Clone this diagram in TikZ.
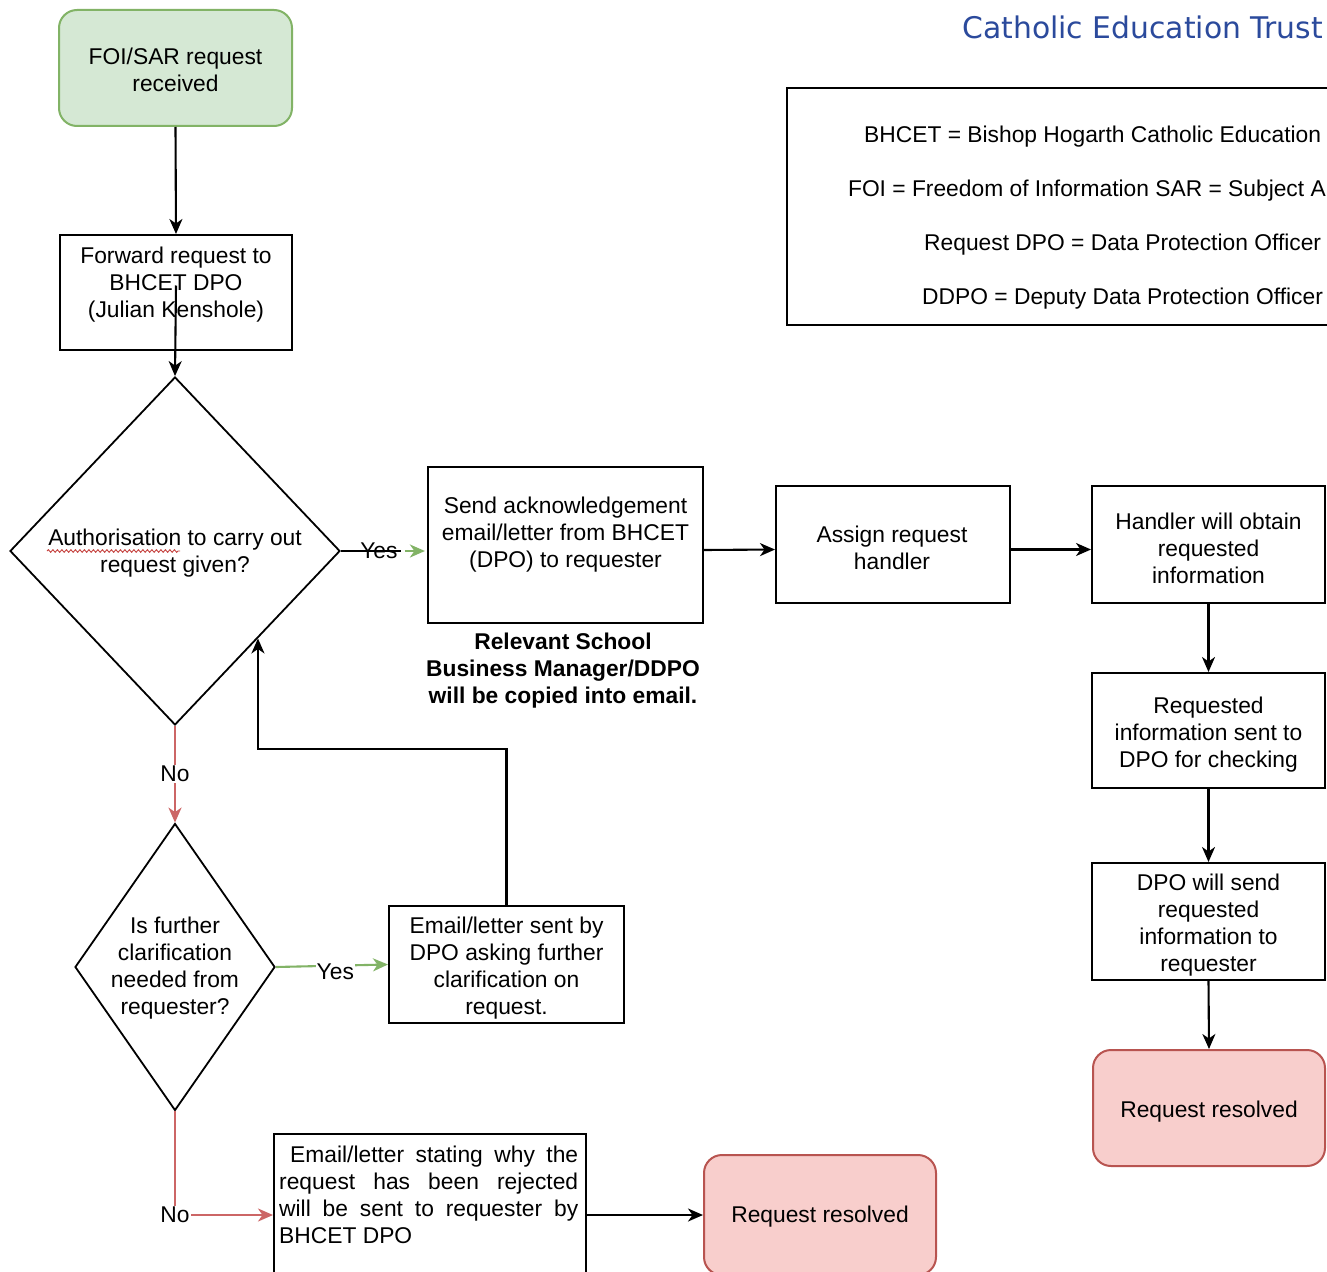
\documentclass[tikz,border=0pt]{standalone}
\usepackage{fontspec}
\setmainfont{Liberation Sans}
\newfontfamily\titlefont{DejaVu Sans}
\usetikzlibrary{shapes.geometric,arrows.meta,calc,decorations.pathmorphing}
\definecolor{gfill}{HTML}{D5E8D4}
\definecolor{gdraw}{HTML}{82B366}
\definecolor{rfill}{HTML}{F8CECC}
\definecolor{rdraw}{HTML}{B85450}
\definecolor{rline}{HTML}{CC6666}
\definecolor{titleblue}{HTML}{2B4A9C}
\begin{document}
\begin{tikzpicture}[x=1pt,y=-1pt,
  font=\fontsize{22.8}{27}\selectfont,
  box/.style={draw, line width=2pt, align=center, inner sep=2pt},
  greenbox/.style={box, rounded corners=18pt, fill=gfill, draw=gdraw},
  redbox/.style={box, rounded corners=18pt, fill=rfill, draw=rdraw},
  decision/.style={draw, diamond, line width=1.8pt, align=center, inner sep=0pt},
  arr/.style={line width=2.1pt, -{Stealth[length=15pt,width=13pt,inset=4.5pt]}},
  redarr/.style={arr, draw=rline},
  greenarr/.style={arr, draw=gdraw},
  lab/.style={fill=white, inner sep=1pt, text=black},
  legendtext/.style={anchor=west, inner sep=0pt},
  inlab/.style={align=center, inner sep=0pt}
]
\useasboundingbox (0,0) rectangle (1327,1271);
\fill[white] (0,0) rectangle (1327,1271);

% title
\node[anchor=east, inner sep=0pt, font=\titlefont\fontsize{29.8}{34}\selectfont, text=titleblue] (title) at (1323,27) {Catholic Education Trust};

% legend
\node[draw, line width=2pt, minimum width=553pt, minimum height=237pt, inner sep=0pt] (legend) at (1063.5,206.5) {};
\node[legendtext] (l1) at (864,137) {BHCET = Bishop Hogarth Catholic Education};
\node[anchor=east, inner sep=0pt] (l2) at (1326,191) {FOI = Freedom of Information SAR = Subject A};
\node[legendtext] (l3) at (924,245) {Request DPO = Data Protection Officer};
\node[legendtext] (l4) at (922,299) {DDPO = Deputy Data Protection Officer};

% left column
\node[greenbox, minimum width=233pt, minimum height=116pt] (start) at (175.5,68) {};
\node[inlab] (startt) at (175.5,70) {FOI/SAR request\\received};
\node[box, minimum width=232pt, minimum height=115pt] (fwd) at (176,292.5) {};
\node[inlab] (fwdt) at (176,285) {Forward request to\\BHCET DPO\\(Julian Kenshole)};
\node[decision, minimum width=330pt, minimum height=348pt] (d1) at (175,551) {};
\node[inlab] (d1t) at (175,553) {Authorisation to carry out\\request given?};
\draw[rdraw!80!red, line width=0.9pt, decorate, decoration={snake, amplitude=1.3pt, segment length=4.5pt}] (47,551) -- (180,551);
\node[decision, minimum width=200pt, minimum height=287pt] (d2) at (175,967) {};
\node[inlab] (d2t) at (175,968) {Is further\\clarification\\needed from\\requester?};

% middle
\node[box, minimum width=275pt, minimum height=156pt] (ack) at (565.5,545) {};
\node[inlab] (ackt) at (565.5,535) {Send acknowledgement\\email/letter from BHCET\\(DPO) to requester};
\node[inlab, font=\fontsize{22.8}{27}\selectfont\bfseries] (note) at (563,671) {Relevant School\\Business Manager/DDPO\\will be copied into email.};
\node[box, minimum width=235pt, minimum height=117pt] (clar) at (506.5,964.5) {};
\node[inlab] (clart) at (506.5,968) {Email/letter sent by\\DPO asking further\\clarification on\\request.};
\node[box, minimum width=312pt, minimum height=162pt] (rej) at (430,1215) {};
\node[anchor=north west, inner sep=0pt, align=left] (rejtext) at (279,1146)
  {\hspace*{11pt}\makebox[288pt][s]{Email/letter stating why the}\\
   \makebox[299pt][s]{request has been rejected}\\
   \makebox[299pt][s]{will be sent to requester by}\\
   BHCET DPO};
\node[redbox, minimum width=232pt, minimum height=120pt] (res2) at (820,1215) {};
\node[inlab] (res2t) at (820,1217) {Request resolved};

% right
\node[box, minimum width=234pt, minimum height=117pt] (assign) at (893,544.5) {};
\node[inlab] (assignt) at (892,548) {Assign request\\handler};
\node[box, minimum width=233pt, minimum height=117pt] (handler) at (1208.5,544.5) {};
\node[inlab] (handlert) at (1208.5,548) {Handler will obtain\\requested\\information};
\node[box, minimum width=233pt, minimum height=115pt] (reqinfo) at (1208.5,730.5) {};
\node[inlab] (reqinfot) at (1208.5,735) {Requested\\information sent to\\DPO for checking};
\node[box, minimum width=233pt, minimum height=117pt] (dposend) at (1208.5,921.5) {};
\node[inlab] (dposendt) at (1208.5,925) {DPO will send\\requested\\information to\\requester};
\node[redbox, minimum width=232pt, minimum height=116pt] (res1) at (1209,1108) {};
\node[inlab] (res1t) at (1209,1112) {Request resolved};

% connectors
\draw[arr] (start.south) -- (fwd.north);
\draw[arr] ($(fwd.center)+(0,-7)$) -- (d1.north);
\coordinate (yesend) at ($(d1.east)+(60,0)$);
\draw[line width=2.1pt] (d1.east) -- (yesend);
\node[inner sep=0pt] (yes1) at ($(d1.east)+(38,0)$) {Yes};
\draw[greenarr] ($(yesend)+(4,0)$) -- ($(d1.east)+(84,0)$);
\draw[arr] ($(ack.east)+(0,5)$) -- ($(assign.west)+(0,5)$);
\draw[arr] ($(assign.east)+(0,5)$) -- ($(handler.west)+(0,5)$);
\draw[arr] (handler.south) -- (reqinfo.north);
\draw[arr] (reqinfo.south) -- (dposend.north);
\draw[arr] (dposend.south) -- (res1.north);
\draw[redarr] (d1.south) -- node[lab] {No} (d2.north);
\draw[greenarr] (d2.east) -- node[lab, pos=0.53, yshift=-6pt] {Yes} (clar.west);
\coordinate (back) at ($(d1.east)!0.5!(d1.south)$);
\draw[arr] (clar.north) -- ++(0,-156) -| (back);
\draw[redarr] (d2.south) |- node[lab, pos=0.5] {No} (rej.west);
\draw[arr] (rej.east) -- (res2.west);
\end{tikzpicture}
\end{document}
